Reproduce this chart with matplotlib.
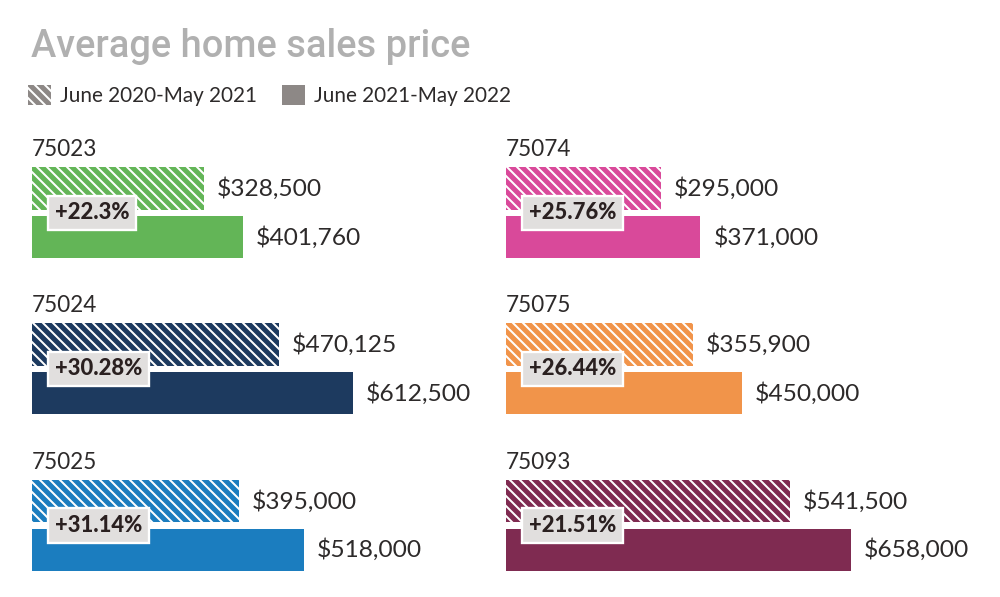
import matplotlib
matplotlib.use('Agg')
import matplotlib.pyplot as plt
from matplotlib.patches import Patch

# ---- data ----
zip_codes = ['75023', '75024', '75025', '75074', '75075', '75093']
price_2020_21 = [328500, 470125, 395000, 295000, 355900, 541500]
price_2021_22 = [401760, 612500, 518000, 371000, 450000, 658000]
pct_change = ['+22.3%', '+30.28%', '+31.14%', '+25.76%', '+26.44%', '+21.51%']
bar_colors = ['#63b557', '#1d3a5f', '#1b7dbf', '#d9499a', '#f1944a', '#7f2b51']
series_labels = ['June 2020-May 2021', 'June 2021-May 2022']
title = 'Average home sales price'

# ---- layout ----
W, H, DPI = 1000, 597, 120
plt.rcParams['font.family'] = ['Lato', 'DejaVu Sans']
plt.rcParams['hatch.linewidth'] = 1.2

fig = plt.figure(figsize=(W / DPI, H / DPI), dpi=DPI)
fig.patch.set_facecolor('white')


def fx(px):
    return px / W


def fy(px):
    return 1 - px / H


TEXT = '#2d2a2a'
HATCH = '\\' * 4
col_left = [31.7, 505.7]
row_top = [167.3, 323.3, 480.0]
axes_h = 91.0
axes_w = 460.0
px_per_dollar = 5.25e-4
xmax = axes_w / px_per_dollar
bar_h = 0.875

for i, z in enumerate(zip_codes):
    col, row = i // 3, i % 3
    ax = fig.add_axes([fx(col_left[col]), fy(row_top[row] + axes_h),
                       axes_w / W, axes_h / H])
    ax.set_xlim(0, xmax)
    ax.set_ylim(-bar_h / 2, 1 + bar_h / 2)
    ax.axis('off')
    c = bar_colors[i]
    ax.barh([1], [price_2020_21[i]], height=bar_h, color=c, hatch=HATCH,
            edgecolor='white', linewidth=0)
    ax.barh([0], [price_2021_22[i]], height=bar_h, color=c, linewidth=0)
    for yv, v in ((1, price_2020_21[i]), (0, price_2021_22[i])):
        ax.annotate(f'${v:,}', xy=(v, yv), xytext=(13, 0),
                    textcoords='offset pixels', ha='left', va='center',
                    fontsize=14.7, color=TEXT, annotation_clip=False)
    ax.annotate(z, xy=(0, 1), xycoords='axes fraction', xytext=(0, 11),
                textcoords='offset pixels', ha='left', va='baseline',
                fontsize=13.5, color=TEXT, annotation_clip=False)
    ax.annotate(pct_change[i], xy=(0, 0.5), xytext=(23, 0),
                textcoords='offset pixels', ha='left', va='center',
                fontsize=13.2, fontweight='black', color='#2a2020',
                annotation_clip=False, zorder=10,
                bbox=dict(boxstyle='square,pad=0.3', fc='#e1dfde',
                          ec='white', lw=1.4))

fig.text(fx(31), fy(57), title, fontsize=22.8, fontweight='medium',
         family=['Roboto', 'DejaVu Sans'],
         color='#b0b0b0', va='baseline', ha='left')

legend_gray = '#8d8886'
handles = [Patch(facecolor=legend_gray, hatch=HATCH, edgecolor='white',
                 linewidth=0, label=series_labels[0]),
           Patch(facecolor=legend_gray, linewidth=0, label=series_labels[1])]
fig.legend(handles=handles, loc='center left',
           bbox_to_anchor=(fx(28), fy(95.5)), ncol=2, frameon=False,
           fontsize=12.4, labelcolor=TEXT, borderpad=0, borderaxespad=0,
           handlelength=1.12, handleheight=1.12, handletextpad=0.44,
           columnspacing=1.2)

fig.savefig('out.png', dpi=DPI, facecolor='white')
